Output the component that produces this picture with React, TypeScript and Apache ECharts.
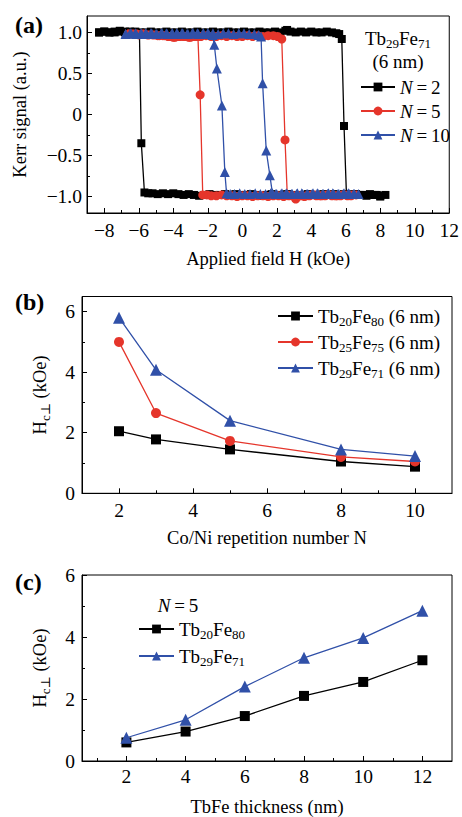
import React, { useEffect, useRef } from 'react';
import * as echarts from 'echarts';

// ---------- Panel (a): Kerr hysteresis loops, Tb29Fe71 (6 nm) ----------
// [applied field H (kOe), Kerr signal (a.u.)] — sweep up, then sweep down
const loopN2: [number, number][] = [
  [-8.3, 1.0], [-8.0, 1.01], [-7.7, 1.0], [-7.4, 1.01], [-7.1, 1.02], [-6.8, 1.01], [-6.5, 1.0], [-6.2, 1.01],
  [-5.9, 1.0], [-5.6, 1.0], [-5.3, 1.01], [-5.0, 1.0], [-4.7, 1.0], [-4.4, 1.01], [-4.1, 1.0], [-3.8, 1.0],
  [-3.5, 1.01], [-3.2, 1.0], [-2.9, 1.0], [-2.6, 1.01], [-2.3, 1.0], [-2.0, 1.0], [-1.7, 1.01], [-1.4, 1.0],
  [-1.1, 1.0], [-0.8, 1.01], [-0.5, 1.0], [-0.2, 1.0], [0.1, 1.01], [0.4, 1.0], [0.7, 1.0], [1.0, 1.01],
  [1.3, 1.0], [1.6, 1.0], [1.9, 1.01], [2.2, 1.0], [2.5, 1.02], [2.6, 1.03], [2.8, 1.01], [3.1, 1.0],
  [3.4, 1.01], [3.7, 1.0], [4.0, 1.01], [4.3, 1.0], [4.6, 1.0], [4.9, 1.01], [5.2, 1.0], [5.45, 0.99],
  [5.62, 0.98], [5.77, 0.92], [5.9, -0.14], [6.04, -0.97], [6.3, -0.98], [6.6, -0.97], [6.9, -0.98], [7.2, -0.99],
  [7.5, -0.98], [7.8, -0.98], [8.0, -1.0], [8.3, -0.98],
  [8.0, -0.99], [7.7, -0.98], [7.4, -0.97], [7.1, -0.98], [6.8, -0.98], [6.5, -0.97], [6.2, -0.98], [5.9, -0.97],
  [5.6, -0.98], [5.3, -0.97], [5.0, -0.98], [4.7, -0.97], [4.4, -0.98], [4.1, -0.98], [3.8, -0.97], [3.5, -0.98],
  [3.2, -0.99], [2.9, -0.98], [2.6, -0.97], [2.3, -0.98], [2.0, -0.98], [1.7, -0.97], [1.4, -0.98], [1.1, -0.99],
  [0.8, -0.98], [0.5, -0.97], [0.2, -0.98], [-0.1, -0.98], [-0.4, -0.97], [-0.7, -0.98], [-1.0, -0.97], [-1.3, -0.98],
  [-1.6, -0.98], [-1.9, -0.97], [-2.2, -0.98], [-2.5, -0.99], [-2.8, -0.98], [-3.1, -0.97], [-3.4, -0.98], [-3.7, -0.97],
  [-4.0, -0.96], [-4.3, -0.97], [-4.6, -0.96], [-4.9, -0.97], [-5.2, -0.96], [-5.45, -0.96], [-5.67, -0.95], [-5.85, -0.35],
  [-5.96, 0.99], [-6.2, 1.0], [-6.5, 1.01], [-6.8, 1.0], [-7.1, 1.01], [-7.4, 1.0], [-7.7, 1.0], [-8.0, 1.01], [-8.3, 1.0],
];

const loopN5: [number, number][] = [
  [-6.6, 0.98], [-6.3, 0.98], [-6.0, 0.97], [-5.7, 0.98], [-5.4, 0.97], [-5.1, 0.97], [-4.8, 0.96], [-4.5, 0.96],
  [-4.2, 0.95], [-3.9, 0.94], [-3.6, 0.95], [-3.3, 0.95], [-3.0, 0.94], [-2.7, 0.95], [-2.4, 0.95], [-2.1, 0.96],
  [-1.8, 0.95], [-1.5, 0.95], [-1.2, 0.96], [-0.9, 0.95], [-0.6, 0.96], [-0.3, 0.95], [0.0, 0.95], [0.3, 0.96],
  [0.6, 0.95], [0.9, 0.96], [1.2, 0.95], [1.5, 0.96], [1.8, 0.96], [2.05, 0.95], [2.29, 0.92], [2.48, -0.31],
  [2.61, -0.98], [2.9, -0.99], [3.1, -1.03], [3.4, -0.99], [3.7, -0.99], [4.0, -0.98], [4.3, -0.99], [4.6, -0.99],
  [4.9, -0.98], [5.2, -0.99], [5.5, -0.99], [5.8, -0.98], [6.1, -0.99], [6.4, -0.98], [6.6, -0.98],
  [6.3, -0.99], [6.0, -0.98], [5.7, -0.99], [5.4, -0.99], [5.1, -0.98], [4.8, -0.99], [4.5, -0.99], [4.2, -0.98],
  [3.9, -0.99], [3.6, -1.0], [3.3, -0.99], [3.0, -0.99], [2.7, -0.99], [2.4, -1.0], [2.1, -0.99], [1.8, -0.99],
  [1.5, -1.0], [1.2, -0.99], [0.9, -0.99], [0.6, -1.0], [0.3, -0.99], [0.0, -0.99], [-0.3, -1.0], [-0.6, -0.99],
  [-0.9, -0.99], [-1.2, -0.98], [-1.5, -0.99], [-1.8, -0.99], [-2.05, -0.98], [-2.29, -0.98], [-2.44, 0.24], [-2.57, 0.95],
  [-2.8, 0.95], [-3.1, 0.94], [-3.4, 0.95], [-3.7, 0.95], [-4.0, 0.94], [-4.3, 0.95], [-4.6, 0.96], [-4.9, 0.96],
  [-5.2, 0.97], [-5.5, 0.97], [-5.8, 0.98], [-6.1, 0.98], [-6.4, 0.98], [-6.6, 0.98],
];

const loopN10: [number, number][] = [
  [-6.76, 0.98], [-6.5, 0.99], [-6.2, 0.99], [-5.9, 0.98], [-5.6, 0.99], [-5.3, 0.99], [-5.0, 0.98], [-4.7, 0.99],
  [-4.4, 0.99], [-4.1, 0.98], [-3.8, 0.99], [-3.5, 0.99], [-3.2, 0.98], [-2.9, 0.99], [-2.6, 0.99], [-2.3, 0.98],
  [-2.0, 0.99], [-1.7, 0.99], [-1.4, 0.98], [-1.1, 0.99], [-0.8, 0.99], [-0.5, 0.98], [-0.2, 0.99], [0.1, 0.99],
  [0.4, 0.98], [0.7, 0.98], [0.95, 0.97], [1.09, 0.95], [1.18, 0.38], [1.39, -0.44], [1.6, -0.74], [1.75, -0.96],
  [2.0, -0.97], [2.3, -0.96], [2.6, -0.97], [2.9, -0.97], [3.2, -0.96], [3.5, -0.97], [3.8, -0.97], [4.1, -0.96],
  [4.4, -0.97], [4.7, -0.97], [5.0, -0.96], [5.3, -0.97], [5.6, -0.97], [5.9, -0.96], [6.2, -0.97], [6.5, -0.97], [6.74, -0.97],
  [6.45, -0.97], [6.15, -0.96], [5.85, -0.97], [5.55, -0.97], [5.25, -0.96], [4.95, -0.97], [4.65, -0.97], [4.35, -0.96],
  [4.05, -0.97], [3.75, -0.97], [3.45, -0.96], [3.15, -0.97], [2.85, -0.97], [2.55, -0.96], [2.25, -0.97], [1.95, -0.97],
  [1.65, -0.96], [1.35, -0.97], [1.05, -0.97], [0.75, -0.96], [0.45, -0.97], [0.15, -0.97], [-0.15, -0.96], [-0.45, -0.97],
  [-0.7, -0.97], [-0.91, -0.96], [-1.01, -0.7], [-1.18, 0.11], [-1.47, 0.56], [-1.62, 0.85], [-1.72, 0.97], [-1.95, 0.98],
  [-2.25, 0.99], [-2.55, 0.98], [-2.85, 0.99], [-3.15, 0.98], [-3.45, 0.99], [-3.75, 0.98], [-4.05, 0.99], [-4.35, 0.98],
  [-4.65, 0.99], [-4.95, 0.98], [-5.25, 0.99], [-5.55, 0.98], [-5.85, 0.99], [-6.15, 0.98], [-6.45, 0.99], [-6.76, 0.98],
];

// ---------- Panel (b): Hc vs Co/Ni repetition number ----------
const repetitionN = [2, 3, 5, 8, 10];
const hcTb20Fe80ByN = [2.05, 1.78, 1.45, 1.05, 0.88];
const hcTb25Fe75ByN = [5.0, 2.65, 1.73, 1.2, 1.05];
const hcTb29Fe71ByN = [5.8, 4.08, 2.4, 1.45, 1.23];

// ---------- Panel (c): Hc vs TbFe thickness (N = 5) ----------
const thicknessNm = [2, 4, 6, 8, 10, 12];
const hcTb20Fe80ByT = [0.6, 0.95, 1.45, 2.1, 2.55, 3.25];
const hcTb29Fe71ByT = [0.75, 1.33, 2.4, 3.33, 3.97, 4.85];

// ---------- Ticks ----------
const aXMajor = [-8, -6, -4, -2, 0, 2, 4, 6, 8, 10, 12];
const aXMinor = [-7, -5, -3, -1, 1, 3, 5, 7, 9, 11];
const aYMajor = [-1, -0.5, 0, 0.5, 1];
const aYMinor = [-0.75, -0.25, 0.25, 0.75];
const bXMajor = [2, 4, 6, 8, 10];
const bXMinor = [3, 5, 7, 9];
const cXMajor = [2, 4, 6, 8, 10, 12];
const cXMinor = [1, 3, 5, 7, 9, 11];
const hcYMajor = [0, 2, 4, 6];
const hcYMinor = [1, 3, 5];

const FONT = '"Liberation Serif", "DejaVu Serif", serif';
const BLACK = '#000000';
const RED = '#e5352b';
const BLUE = '#3050a8';

const nameText = { fontFamily: FONT, fontSize: 18.5, color: BLACK };
const tickText = { fontFamily: FONT, fontSize: 19.5, color: BLACK };
const legText = { fontFamily: FONT, fontSize: 19, color: BLACK };
const subRich = { fontFamily: FONT, fontSize: 13, color: BLACK, lineHeight: 12, verticalAlign: 'bottom' as const };
const italRich = { fontFamily: FONT, fontSize: 19, color: BLACK, fontStyle: 'italic' as const, lineHeight: 24 };

const minus = (v: number, digits: number) => {
  if (v === 0) return '0';
  const s = digits > 0 ? Math.abs(v).toFixed(digits) : String(Math.abs(v));
  return (v < 0 ? '\u2212' : '') + s;
};

function axesFor(
  gridIndex: number,
  xMin: number, xMax: number, xMaj: number[], xMinr: number[], xName: string, xGap: number, xLabelMargin: number,
  yMin: number, yMax: number, yMaj: number[], yMinr: number[], yName: string, yGap: number, yLabelMargin: number,
  yDigits: number,
) {
  const xAxes = [
    {
      type: 'value', gridIndex, min: xMin, max: xMax, position: 'bottom',
      name: xName, nameLocation: 'middle', nameGap: xGap,
      nameTextStyle: { ...nameText },
      axisLine: { show: true, onZero: false, lineStyle: { color: BLACK, width: 1 } },
      axisTick: { show: true, inside: true, length: 5, customValues: xMaj, lineStyle: { color: BLACK } },
      axisLabel: { show: true, customValues: xMaj, margin: xLabelMargin, ...tickText, formatter: (v: number) => minus(v, 0) },
      splitLine: { show: false },
    },
    {
      type: 'value', gridIndex, min: xMin, max: xMax, position: 'bottom',
      axisLine: { show: false, onZero: false },
      axisTick: { show: true, inside: true, length: 3, customValues: xMinr, lineStyle: { color: BLACK } },
      axisLabel: { show: false },
      splitLine: { show: false },
    },
  ];
  const yAxes = [
    {
      type: 'value', gridIndex, min: yMin, max: yMax, position: 'left',
      name: yName, nameLocation: 'middle', nameGap: yGap, nameRotate: 90,
      nameTextStyle: { ...nameText, lineHeight: 24, rich: { s: subRich } },
      axisLine: { show: true, onZero: false, lineStyle: { color: BLACK, width: 1 } },
      axisTick: { show: true, inside: true, length: 5, customValues: yMaj, lineStyle: { color: BLACK } },
      axisLabel: { show: true, customValues: yMaj, margin: yLabelMargin, ...tickText, formatter: (v: number) => minus(v, yDigits) },
      splitLine: { show: false },
    },
    {
      type: 'value', gridIndex, min: yMin, max: yMax, position: 'left',
      axisLine: { show: false, onZero: false },
      axisTick: { show: true, inside: true, length: 3, customValues: yMinr, lineStyle: { color: BLACK } },
      axisLabel: { show: false },
      splitLine: { show: false },
    },
  ];
  return { xAxes, yAxes };
}

const legendFormatter = (name: string) =>
  name.replace(/^N/, '{i|N}').replace(/(Tb|Fe)(\d+)/g, '$1{s|$2}');

const legendText = { ...legText, lineHeight: 24, rich: { s: subRich, i: italRich } };

function lineSeries(name: string, xi: number, data: any[], color: string, symbol: string, size: number, z: number) {
  return {
    name, type: 'line', xAxisIndex: xi, yAxisIndex: xi, data,
    symbol, symbolSize: size, showSymbol: true, showAllSymbol: true,
    lineStyle: { color, width: 1.3 }, itemStyle: { color, borderWidth: 0 },
    emphasis: { disabled: true }, z, clip: true,
  };
}

export default function App() {
  const ref = useRef<HTMLDivElement>(null);
  useEffect(() => {
    if (!ref.current) return;
    const chart = echarts.init(ref.current, undefined, { renderer: 'svg' });

    const a = axesFor(0, -9, 12, aXMajor, aXMinor, 'Applied field H (kOe)', 36, 7,
      -1.2, 1.2, aYMajor, aYMinor, 'Kerr signal (a.u.)', 55, 5, 1);
    const b = axesFor(1, 1, 11, bXMajor, bXMinor, 'Co/Ni repetition number N', 35, 7,
      0, 6.5, hcYMajor, hcYMinor, 'H{s|c\u22a5} (kOe)', 30, 7, 0);
    const c = axesFor(2, 0.5, 13, cXMajor, cXMinor, 'TbFe thickness (nm)', 36, 5,
      0, 6, hcYMajor, hcYMinor, 'H{s|c\u22a5} (kOe)', 30, 7, 0);

    const zipXY = (xs: number[], ys: number[]) => xs.map((x, i) => [x, ys[i]]);

    const option: any = {
      animation: false,
      backgroundColor: '#ffffff',
      grid: [
        { left: 82, top: 16, width: 370, height: 197, show: true, borderColor: BLACK, borderWidth: 1, backgroundColor: 'transparent' },
        { left: 82, top: 296.5, width: 370, height: 196.8, show: true, borderColor: BLACK, borderWidth: 1, backgroundColor: 'transparent' },
        { left: 82, top: 575, width: 370, height: 188.3, show: true, borderColor: BLACK, borderWidth: 1, backgroundColor: 'transparent' },
      ],
      xAxis: [...a.xAxes, ...b.xAxes, ...c.xAxes],
      yAxis: [...a.yAxes, ...b.yAxes, ...c.yAxes],
      legend: [
        {
          data: ['N=2', 'N=5', 'N=10'], orient: 'vertical', left: 360, top: 75, padding: 0,
          itemWidth: 34, itemHeight: 11, itemGap: 0, selectedMode: false,
          formatter: (n: string) => legendFormatter(n.replace('=', '\u2009=\u2009')), textStyle: legendText,
        },
        {
          data: ['Tb20Fe80 (6 nm)', 'Tb25Fe75 (6 nm)', 'Tb29Fe71 (6 nm)'], orient: 'vertical', left: 277, top: 304, padding: 0,
          itemWidth: 35, itemHeight: 11, itemGap: 2, selectedMode: false,
          formatter: legendFormatter, textStyle: legendText,
        },
        {
          data: ['Tb20Fe80', 'Tb29Fe71'], orient: 'vertical', left: 138, top: 617, padding: 0,
          itemWidth: 35, itemHeight: 11, itemGap: 3, selectedMode: false,
          formatter: legendFormatter, textStyle: legendText,
        },
      ],
      graphic: [
        { type: 'text', x: 15, y: 25, style: { text: '(a)', fontFamily: FONT, fontSize: 24, fontWeight: 'bold', fill: BLACK, verticalAlign: 'middle' } },
        { type: 'text', x: 15, y: 302, style: { text: '(b)', fontFamily: FONT, fontSize: 24, fontWeight: 'bold', fill: BLACK, verticalAlign: 'middle' } },
        { type: 'text', x: 15, y: 582, style: { text: '(c)', fontFamily: FONT, fontSize: 24, fontWeight: 'bold', fill: BLACK, verticalAlign: 'middle' } },
        {
          type: 'text', x: 398, y: 38,
          style: { text: 'Tb{s|29}Fe{s|71}', fontFamily: FONT, fontSize: 19, fill: BLACK, lineHeight: 24, align: 'center', verticalAlign: 'middle', rich: { s: { ...subRich, fill: BLACK } } },
        },
        { type: 'text', x: 398, y: 61, style: { text: '(6 nm)', fontFamily: FONT, fontSize: 19, fill: BLACK, align: 'center', verticalAlign: 'middle' } },
        {
          type: 'text', x: 178, y: 605,
          style: { text: '{i|N}\u2009=\u20095', fontFamily: FONT, fontSize: 19, fill: BLACK, lineHeight: 24, align: 'center', verticalAlign: 'middle', rich: { i: { ...italRich, fill: BLACK } } },
        },
      ],
      series: [
        lineSeries('N=2', 0, loopN2, BLACK, 'rect', 8, 2),
        lineSeries('N=5', 0, loopN5, RED, 'circle', 9, 3),
        lineSeries('N=10', 0, loopN10, BLUE, 'triangle', 10, 4),
        lineSeries('Tb20Fe80 (6 nm)', 2, zipXY(repetitionN, hcTb20Fe80ByN), BLACK, 'rect', 10, 2),
        lineSeries('Tb25Fe75 (6 nm)', 2, zipXY(repetitionN, hcTb25Fe75ByN), RED, 'circle', 10, 3),
        lineSeries('Tb29Fe71 (6 nm)', 2, zipXY(repetitionN, hcTb29Fe71ByN), BLUE, 'triangle', 12, 4),
        lineSeries('Tb20Fe80', 4, zipXY(thicknessNm, hcTb20Fe80ByT), BLACK, 'rect', 10, 2),
        lineSeries('Tb29Fe71', 4, zipXY(thicknessNm, hcTb29Fe71ByT), BLUE, 'triangle', 12, 3),
      ],
    };
    chart.setOption(option);
    return () => chart.dispose();
  }, []);
  return <div ref={ref} style={{ position: 'absolute', left: 0, top: 0, width: 462, height: 817 }} />;
}
